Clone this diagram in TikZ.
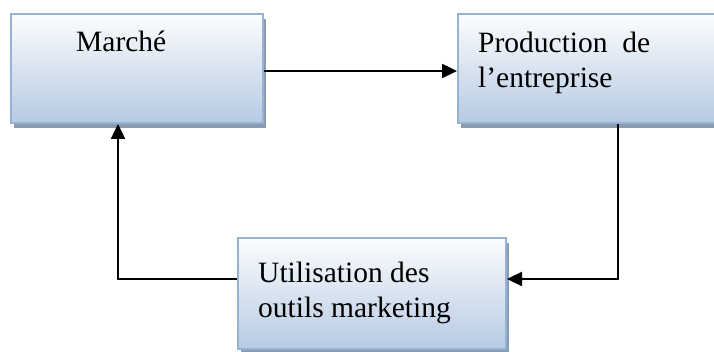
\documentclass[tikz,border=0pt]{standalone}
\usepackage{fontspec}
\setmainfont{Liberation Serif}
\usetikzlibrary{arrows.meta,shadows}

\definecolor{boxtop}{HTML}{FCFDFE}
\definecolor{boxbottom}{HTML}{B6CAE3}
\definecolor{boxedge}{HTML}{95B3D7}
\definecolor{boxshade}{HTML}{8C9BAE}

\tikzset{
  box/.style={draw=boxedge, line width=2pt,
    top color=boxtop, bottom color=boxbottom,
    inner sep=0pt, anchor=north west,
    drop shadow={shadow xshift=3pt, shadow yshift=-5pt, fill=boxshade, opacity=1}},
  lbl/.style={inner sep=0pt, anchor=base west, font=\fontsize{29.5}{35}\selectfont},
  flow/.style={line width=2.4pt, -{Triangle[length=15pt,width=14pt]}}
}

\begin{document}
\begin{tikzpicture}[x=1pt, y=-1pt]
  \useasboundingbox (0,0) rectangle (714,352);

  % the three stages of the cycle
  \node[box, minimum width=252pt, minimum height=109pt] (m) at (10,13) {};
  \node[box, minimum width=265pt, minimum height=109pt] (p) at (457,13) {};
  \node[box, minimum width=268pt, minimum height=111pt] (u) at (237,237) {};

  % labels
  \node[lbl] (mtxt) at (76,52) {Marché};
  \node[lbl] (ptxt1) at (478,53) {Production~~de};
  \node[lbl] (ptxt2) at (478,88) {l’entreprise};
  \node[lbl] (utxt1) at (258,283) {Utilisation des};
  \node[lbl] (utxt2) at (258,317) {outils marketing};

  % connectors
  \draw[flow] ([yshift=-2.5pt]m.east) -- ([yshift=-2.5pt]p.west);
  \draw[flow] ([xshift=27.5pt]p.south) |- ([yshift=14.5pt]u.east);
  \draw[flow] ([yshift=14.5pt]u.west) -| ([xshift=-19pt]m.south);
\end{tikzpicture}
\end{document}
